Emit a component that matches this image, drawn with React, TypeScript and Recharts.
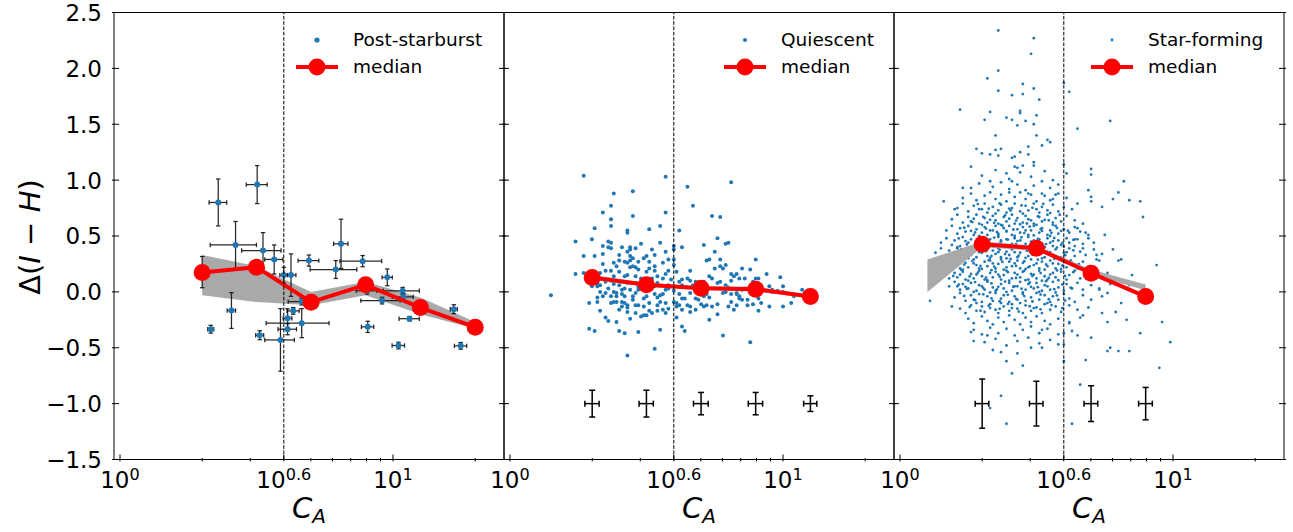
import React from 'react';
import {
  ComposedChart,
  Scatter,
  Line,
  Area,
  XAxis,
  YAxis,
  ErrorBar,
  ReferenceLine,
  Legend,
} from 'recharts';

/* -------------------------------------------------------------------------- */
/*  Data                                                                      */
/* -------------------------------------------------------------------------- */

// bin centres of the running medians (C_A)
const binCA = [2.0, 3.16, 5.01, 7.94, 12.6, 20.0];

// post-starburst galaxies (with individual errors)
const psCA = [2.29, 3.18, 2.65, 3.34, 3.67, 3.98, 4.23, 4.92, 6.45, 6.17, 7.74, 9.53, 10.85, 10.9, 9.12, 8.03, 11.5, 10.47, 8.08, 16.7, 17.7, 2.15, 2.56, 3.25, 3.87, 4.11, 4.11, 4.63, 4.31, 4.63, 2.0];
const psDelta = [0.8, 0.96, 0.42, 0.37, 0.29, 0.15, 0.15, 0.28, 0.43, 0.2, 0.275, 0.13, 0.01, -0.045, -0.078, 0.01, -0.24, -0.48, -0.313, -0.155, -0.483, -0.334, -0.167, -0.388, -0.43, -0.334, -0.236, -0.28, -0.17, -0.087, 0.177];
const psErrCA = [0.17, 0.28, 0.51, 0.55, 0.28, 0.13, 0.18, 0.43, 0.39, 1.2, 1.35, 0.41, 1.64, 0.96, 1.5, 0.7, 0.98, 0.55, 0.42, 0.5, 0.92, 0.055, 0.09, 0.11, 0.48, 0.32, 0.15, 1.2, 0.22, 0.5, 0.05];
const psErrDelta = [0.21, 0.17, 0.21, 0.16, 0.13, 0.07, 0.19, 0.05, 0.22, 0.08, 0.05, 0.075, 0.03, 0.03, 0.03, 0.03, 0.02, 0.03, 0.05, 0.04, 0.03, 0.035, 0.16, 0.04, 0.28, 0.05, 0.085, 0.13, 0.03, 0.03, 0.14];

const psMedian = [0.173, 0.221, -0.092, 0.063, -0.14, -0.316];
const psBandLow = [-0.03, -0.09, -0.12, -0.03, -0.2, -0.33];
const psBandHigh = [0.33, 0.23, 0.0, 0.09, -0.05, -0.27];

// quiescent galaxies: [log10 C_A, delta]
const qCloud = [
  [0.27, 1.04], [0.57, 1.03], [0.65, 0.94], [0.81, 0.98], [0.38, 0.88], [0.45, 0.9], [0.37, 0.77], [0.67, 0.77], [0.34, 0.71], [0.57, 0.71],
  [0.45, 0.68], [0.37, 0.65], [0.74, 0.68], [0.77, 0.67], [0.31, 0.57], [0.37, 0.59], [0.55, 0.59], [0.51, 0.56], [0.62, 0.55], [0.43, 0.55],
  [0.43, 0.53], [0.24, 0.45], [0.3, 0.47], [0.76, 0.48], [0.8, 0.44], [0.79, 0.43], [0.36, 0.45], [0.37, 0.44], [0.34, 0.41], [0.36, 0.4],
  [0.37, 0.39], [0.41, 0.4], [0.44, 0.4], [0.44, 0.38], [0.46, 0.39], [0.48, 0.43], [0.52, 0.38], [0.55, 0.44], [0.6, 0.41], [0.63, 0.4],
  [0.71, 0.42], [0.27, 0.32], [0.31, 0.32], [0.4, 0.33], [0.44, 0.32], [0.43, 0.36], [0.5, 0.32], [0.53, 0.33], [0.57, 0.36], [0.6, 0.38],
  [0.6, 0.29], [0.75, 0.36], [0.77, 0.29], [0.72, 0.28], [0.73, 0.29], [0.9, 0.29], [0.85, 0.21], [0.88, 0.2], [0.94, 0.16], [0.99, 0.13],
  [1.0, 0.05], [1.07, 0.02], [1.03, -0.1], [1.0, -0.13], [0.95, -0.13], [0.91, -0.17], [0.87, -0.12], [0.88, -0.45], [0.78, -0.39], [0.73, -0.25],
  [0.76, -0.2], [0.7, -0.11], [0.71, -0.13], [0.66, -0.13], [0.66, -0.18], [0.63, -0.31], [0.64, -0.35], [0.61, -0.23], [0.58, -0.15], [0.53, -0.51],
  [0.55, -0.34], [0.47, -0.36], [0.43, -0.57], [0.42, -0.37], [0.4, -0.35], [0.31, -0.35], [0.29, -0.33], [0.29, -0.1], [0.24, 0.16], [0.15, -0.03],
  [0.27, 0.17], [0.33, -0.17], [0.35, -0.23], [0.36, -0.26], [0.39, -0.27], [0.44, -0.24], [0.46, -0.19], [0.48, -0.22], [0.5, -0.21], [0.52, -0.19],
  [0.54, -0.12], [0.51, -0.1], [0.49, -0.13], [0.47, -0.12], [0.45, -0.07], [0.43, -0.12], [0.43, -0.14], [0.4, -0.16], [0.41, -0.09], [0.38, -0.09],
  [0.37, -0.1], [0.34, -0.04], [0.32, -0.05], [0.32, 0.05], [0.33, 0.0], [0.32, -0.09], [0.35, -0.01], [0.39, -0.01], [0.41, -0.02], [0.42, -0.04],
  [0.42, 0.03], [0.45, -0.04], [0.46, -0.01], [0.47, 0.02], [0.5, -0.04], [0.53, -0.02], [0.54, -0.05], [0.56, -0.02], [0.57, 0.02], [0.58, 0.03],
  [0.6, 0.01], [0.62, -0.02], [0.63, -0.06], [0.61, -0.1], [0.61, -0.13], [0.62, -0.12], [0.64, -0.06], [0.63, 0.11], [0.65, 0.12], [0.66, 0.19],
  [0.66, 0.1], [0.67, 0.06], [0.68, 0.09], [0.69, 0.04], [0.71, -0.04], [0.72, -0.02], [0.73, -0.05], [0.74, 0.12], [0.76, 0.08], [0.77, 0.09],
  [0.79, 0.06], [0.79, 0.0], [0.8, 0.04], [0.81, -0.02], [0.83, -0.02], [0.83, -0.01], [0.84, -0.04], [0.85, 0.02], [0.86, 0.03], [0.88, 0.0],
  [0.89, 0.02], [0.91, -0.06], [0.93, 0.02], [0.95, 0.05], [0.96, 0.02], [1.0, 0.0], [1.03, -0.02], [1.06, -0.03], [0.81, 0.1], [0.82, 0.14],
  [0.77, 0.23], [0.78, 0.21], [0.79, 0.24], [0.81, 0.16], [0.83, 0.16], [0.84, 0.12], [0.86, 0.12], [0.89, 0.09], [0.9, 0.12], [0.91, 0.12],
  [0.8, -0.13], [0.82, -0.16], [0.83, -0.12], [0.72, -0.12], [0.74, -0.13], [0.76, -0.11], [0.68, -0.16], [0.68, -0.06], [0.69, -0.07], [0.65, -0.12],
  [0.63, -0.16], [0.6, -0.09], [0.57, -0.1], [0.55, -0.03], [0.54, 0.08], [0.53, 0.19], [0.51, 0.21], [0.5, 0.18], [0.5, 0.11], [0.47, 0.2],
  [0.46, 0.14], [0.46, 0.22], [0.44, 0.22], [0.43, 0.15], [0.42, 0.14], [0.4, 0.18], [0.38, 0.14], [0.37, 0.19], [0.35, 0.19], [0.34, 0.25],
  [0.33, 0.17], [0.31, 0.18], [0.32, 0.08], [0.35, 0.09], [0.37, 0.1], [0.38, 0.07], [0.4, 0.06], [0.41, 0.09], [0.43, 0.08], [0.44, 0.02],
  [0.48, 0.06], [0.52, 0.12], [0.54, 0.14], [0.56, 0.12], [0.57, 0.16], [0.58, 0.19], [0.6, 0.24], [0.61, 0.18], [0.59, 0.11], [0.6, 0.05],
  [0.51, 0.05], [0.5, 0.02], [0.39, -0.04], [0.39, -0.09], [0.37, -0.04], [0.43, -0.18], [0.49, -0.21], [0.51, -0.17], [0.46, -0.12], [0.54, -0.17],
  [0.56, -0.16], [0.57, -0.19], [0.42, -0.1], [0.41, -0.13], [0.49, -0.06], [0.55, -0.09], [0.66, -0.01], [0.68, 0.04], [0.71, 0.09], [0.73, 0.14],
  [0.75, 0.21], [0.78, -0.01], [0.81, -0.09], [0.85, -0.07], [0.89, -0.11], [0.87, -0.07], [0.84, -0.06], [0.92, -0.1], [0.96, 0.0], [0.98, 0.01],
  [1.01, -0.01], [1.04, -0.04], [1.1, -0.04], [1.08, -0.01], [0.63, 0.06], [0.65, 0.04], [0.62, 0.09], [0.58, 0.06], [0.53, 0.05], [0.47, 0.05],
  [0.48, 0.12], [0.46, 0.08], [0.41, 0.02], [0.38, 0.0], [0.36, 0.03], [0.33, 0.06], [0.31, 0.11], [0.29, 0.09], [0.3, 0.05], [0.32, 0.15],
  [0.34, 0.34], [0.38, 0.26], [0.39, 0.23], [0.4, 0.28], [0.42, 0.27], [0.45, 0.3], [0.47, 0.27], [0.49, 0.3], [0.51, 0.27], [0.56, 0.26],
  [0.58, 0.29], [0.53, 0.23], [0.43, 0.26], [0.44, 0.28], [0.45, 0.23],
];
const qMedian = [0.128, 0.063, 0.033, 0.024, -0.042];
const qBandLow = [0.11, 0.045, 0.02, 0.005, -0.06];
const qBandHigh = [0.15, 0.08, 0.05, 0.045, -0.025];
const qTypErrCA = [0.12, 0.19, 0.31, 0.48, 0.7];
const qTypErrDelta = [0.12, 0.12, 0.1, 0.1, 0.07];

// star-forming galaxies: [log10 C_A, delta]
const sfOutliers = [
  [0.36, 2.34], [0.49, 2.27], [0.48, 2.13], [0.36, 1.98], [0.32, 1.91], [0.45, 1.86], [0.6, 1.87], [0.49, 1.82], [0.36, 1.8], [0.45, 1.77],
  [0.41, 1.76], [0.62, 1.79], [0.51, 1.72], [0.22, 1.63], [0.44, 1.62], [0.44, 1.6], [0.33, 1.61], [0.39, 1.56], [0.5, 1.58], [0.46, 1.53],
  [0.41, 1.54], [0.43, 1.49], [0.49, 1.5], [0.31, 1.54], [0.77, 1.53], [0.65, 1.46], [0.35, 1.4], [0.5, 1.4], [0.54, 1.36], [0.55, 1.34],
  [0.52, 1.31], [0.47, 1.3], [0.28, 1.28], [0.3, 1.24], [0.33, 1.23], [0.35, 1.27], [0.37, 1.28], [0.36, 1.22], [0.41, 1.2], [0.42, 1.21],
  [0.44, 1.25], [0.47, 1.23], [0.49, 1.16], [0.49, 1.13], [0.26, 1.12], [0.42, 1.12], [0.39, 1.06], [0.43, 1.11], [0.45, 1.13], [0.6, 1.14],
  [0.61, 1.06], [0.7, 1.1], [0.7, 1.05], [0.82, 0.99], [0.8, 0.89], [0.69, 0.91], [0.7, 0.85], [0.7, 0.81], [0.78, 0.83], [0.84, 0.82],
  [0.88, 0.81], [0.89, 0.67], [0.74, 0.76], [0.75, 0.51], [0.78, 0.38], [0.8, 0.28], [0.85, 0.15], [0.94, 0.24], [0.84, 0.06], [0.89, 0.05],
  [0.96, -0.27], [0.99, -0.45], [0.95, -0.68], [0.88, -0.37], [0.84, -0.53], [0.8, -0.53], [0.76, -0.53], [0.77, -0.5], [0.7, -0.41], [0.68, -0.61],
  [0.66, -0.83], [0.63, -1.18], [0.6, -0.62], [0.39, -1.18], [0.37, -0.93], [0.41, -0.73], [0.33, -1.04], [0.39, -0.62], [0.45, -0.66], [0.27, -0.44],
  [0.26, -0.36], [0.11, -0.08], [0.19, -0.13], [0.21, 0.05], [0.16, 0.14], [0.2, 0.25], [0.16, 0.81], [0.2, 0.74], [0.23, 0.93], [0.21, 0.4],
  [0.32, -0.39], [0.34, -0.52], [0.37, -0.54], [0.43, -0.55], [0.48, -0.5], [0.52, -0.5], [0.52, -0.34], [0.58, -0.47], [0.6, -0.37], [0.62, -0.27],
  [0.65, -0.39], [0.67, -0.21], [0.74, -0.19], [0.76, -0.27], [0.79, -0.18], [0.83, -0.25], [0.81, -0.1], [0.76, -0.01], [0.73, 0.02], [0.81, 0.29],
  [0.72, 0.29], [0.72, 0.33], [0.67, 0.39], [0.68, 0.53], [0.65, 0.57], [0.64, 0.47], [0.57, 0.87], [0.56, 0.83], [0.52, 0.88], [0.47, 0.88],
];
const sfCore = [
  [0.3, 1.04], [0.35, 1.09], [0.4, 1.01], [0.44, 1.07], [0.48, 1.03], [0.53, 1.08], [0.33, 0.99], [0.56, 1.0],
  [0.26, 0.93], [0.29, 0.97], [0.34, 0.94], [0.37, 0.98], [0.4, 0.92], [0.43, 0.96], [0.46, 0.91], [0.49, 0.95], [0.52, 0.99], [0.55, 0.93], [0.58, 0.96], [0.41, 0.99],
  [0.23, 0.84], [0.26, 0.88], [0.28, 0.82], [0.31, 0.86], [0.33, 0.89], [0.35, 0.83], [0.37, 0.87], [0.39, 0.81], [0.42, 0.85], [0.44, 0.89], [0.46, 0.83], [0.48, 0.87], [0.5, 0.81], [0.53, 0.86], [0.55, 0.82], [0.58, 0.88], [0.61, 0.84], [0.4, 0.89],
  [0.21, 0.75], [0.23, 0.79], [0.25, 0.72], [0.27, 0.77], [0.29, 0.74], [0.31, 0.79], [0.32, 0.71], [0.34, 0.76], [0.36, 0.73], [0.37, 0.78], [0.39, 0.71], [0.41, 0.75], [0.42, 0.79],
  [0.44, 0.72], [0.46, 0.77], [0.47, 0.73], [0.49, 0.79], [0.51, 0.71], [0.52, 0.76], [0.54, 0.73], [0.56, 0.78], [0.58, 0.72], [0.6, 0.76], [0.63, 0.74], [0.65, 0.79],
  [0.19, 0.65], [0.21, 0.69], [0.23, 0.62], [0.25, 0.67], [0.26, 0.63], [0.28, 0.69], [0.29, 0.61], [0.31, 0.66], [0.32, 0.62], [0.34, 0.68], [0.35, 0.64], [0.36, 0.61], [0.38, 0.67], [0.39, 0.63], [0.41, 0.69],
  [0.42, 0.61], [0.43, 0.66], [0.45, 0.62], [0.46, 0.68], [0.48, 0.64], [0.49, 0.61], [0.51, 0.67], [0.52, 0.63], [0.54, 0.69], [0.56, 0.62], [0.57, 0.66], [0.59, 0.63], [0.61, 0.68], [0.64, 0.64], [0.67, 0.61],
  [0.17, 0.55], [0.19, 0.59], [0.21, 0.52], [0.22, 0.57], [0.24, 0.54], [0.25, 0.59], [0.27, 0.51], [0.28, 0.56], [0.3, 0.53], [0.31, 0.58], [0.32, 0.51], [0.34, 0.55], [0.35, 0.59], [0.36, 0.52], [0.38, 0.57], [0.39, 0.54], [0.4, 0.59], [0.41, 0.51],
  [0.43, 0.56], [0.44, 0.53], [0.45, 0.58], [0.47, 0.51], [0.48, 0.55], [0.49, 0.59], [0.51, 0.53], [0.52, 0.57], [0.54, 0.51], [0.55, 0.55], [0.57, 0.59], [0.58, 0.52], [0.6, 0.56], [0.62, 0.53], [0.64, 0.58], [0.66, 0.54], [0.69, 0.51],
  [0.15, 0.44], [0.17, 0.48], [0.19, 0.42], [0.2, 0.46], [0.22, 0.41], [0.23, 0.49], [0.25, 0.44], [0.26, 0.47], [0.28, 0.42], [0.29, 0.48], [0.3, 0.45], [0.32, 0.41], [0.33, 0.47], [0.34, 0.43], [0.36, 0.49], [0.37, 0.45], [0.38, 0.41], [0.39, 0.47], [0.41, 0.43], [0.42, 0.48],
  [0.43, 0.41], [0.44, 0.46], [0.46, 0.43], [0.47, 0.49], [0.48, 0.45], [0.5, 0.41], [0.51, 0.47], [0.52, 0.43], [0.54, 0.48], [0.55, 0.44], [0.56, 0.41], [0.58, 0.46], [0.59, 0.42], [0.61, 0.48], [0.62, 0.44], [0.64, 0.41], [0.65, 0.47], [0.67, 0.43], [0.69, 0.48], [0.71, 0.44],
  [0.13, 0.35], [0.15, 0.39], [0.17, 0.32], [0.18, 0.37], [0.2, 0.34], [0.21, 0.39], [0.23, 0.31], [0.24, 0.36], [0.26, 0.33], [0.27, 0.38], [0.28, 0.31], [0.3, 0.35], [0.31, 0.39], [0.32, 0.32], [0.34, 0.37], [0.35, 0.34], [0.36, 0.39], [0.37, 0.31], [0.39, 0.36], [0.4, 0.33],
  [0.41, 0.38], [0.43, 0.31], [0.44, 0.35], [0.45, 0.39], [0.47, 0.32], [0.48, 0.37], [0.5, 0.34], [0.51, 0.39], [0.53, 0.31], [0.54, 0.36], [0.56, 0.33], [0.57, 0.38], [0.59, 0.31], [0.6, 0.35], [0.62, 0.39], [0.64, 0.32], [0.66, 0.36], [0.68, 0.33], [0.71, 0.38], [0.74, 0.34],
  [0.13, 0.25], [0.15, 0.29], [0.16, 0.22], [0.18, 0.27], [0.19, 0.23], [0.21, 0.28], [0.22, 0.21], [0.24, 0.26], [0.25, 0.22], [0.27, 0.29], [0.28, 0.24], [0.29, 0.21], [0.31, 0.27], [0.32, 0.23], [0.33, 0.28], [0.35, 0.21], [0.36, 0.25], [0.37, 0.29], [0.39, 0.22], [0.4, 0.27],
  [0.41, 0.23], [0.43, 0.28], [0.44, 0.21], [0.45, 0.26], [0.47, 0.22], [0.48, 0.29], [0.49, 0.24], [0.51, 0.21], [0.52, 0.27], [0.54, 0.23], [0.55, 0.28], [0.57, 0.21], [0.58, 0.25], [0.6, 0.29], [0.61, 0.22], [0.63, 0.26], [0.65, 0.21], [0.67, 0.27], [0.7, 0.23], [0.73, 0.28],
  [0.15, 0.15], [0.17, 0.19], [0.18, 0.12], [0.2, 0.17], [0.21, 0.13], [0.23, 0.18], [0.24, 0.11], [0.26, 0.16], [0.27, 0.12], [0.29, 0.19], [0.3, 0.14], [0.31, 0.11], [0.33, 0.17], [0.34, 0.13], [0.35, 0.18], [0.37, 0.11], [0.38, 0.15], [0.39, 0.19], [0.41, 0.12],
  [0.42, 0.17], [0.44, 0.13], [0.45, 0.18], [0.47, 0.11], [0.48, 0.16], [0.5, 0.12], [0.51, 0.19], [0.53, 0.14], [0.54, 0.11], [0.56, 0.17], [0.57, 0.13], [0.59, 0.18], [0.61, 0.11], [0.62, 0.15], [0.64, 0.19], [0.66, 0.12], [0.69, 0.16], [0.72, 0.13], [0.76, 0.17],
  [0.18, 0.05], [0.2, 0.09], [0.22, 0.02], [0.23, 0.07], [0.25, 0.03], [0.26, 0.08], [0.28, 0.01], [0.29, 0.06], [0.31, 0.02], [0.32, 0.09], [0.34, 0.04], [0.35, 0.01], [0.37, 0.07], [0.38, 0.03], [0.4, 0.08], [0.41, 0.01], [0.43, 0.05], [0.44, 0.09],
  [0.46, 0.02], [0.47, 0.07], [0.49, 0.03], [0.5, 0.08], [0.52, 0.01], [0.53, 0.06], [0.55, 0.02], [0.56, 0.09], [0.58, 0.04], [0.6, 0.01], [0.61, 0.07], [0.63, 0.03], [0.65, 0.08], [0.67, 0.02], [0.7, 0.06], [0.73, 0.03], [0.77, 0.07],
  [0.2, -0.05], [0.22, -0.01], [0.24, -0.08], [0.26, -0.03], [0.27, -0.07], [0.29, -0.02], [0.3, -0.09], [0.32, -0.04], [0.34, -0.08], [0.35, -0.01], [0.37, -0.06], [0.38, -0.03], [0.4, -0.09], [0.42, -0.04], [0.43, -0.07],
  [0.45, -0.02], [0.46, -0.08], [0.48, -0.05], [0.5, -0.01], [0.51, -0.07], [0.53, -0.03], [0.55, -0.09], [0.56, -0.04], [0.58, -0.07], [0.6, -0.02], [0.62, -0.06], [0.64, -0.09], [0.67, -0.03], [0.7, -0.07], [0.74, -0.04],
  [0.22, -0.15], [0.24, -0.19], [0.26, -0.12], [0.28, -0.17], [0.3, -0.13], [0.31, -0.18], [0.33, -0.11], [0.35, -0.16], [0.36, -0.19], [0.38, -0.13], [0.4, -0.17], [0.41, -0.11], [0.43, -0.15],
  [0.45, -0.19], [0.46, -0.12], [0.48, -0.17], [0.5, -0.14], [0.52, -0.19], [0.53, -0.11], [0.55, -0.16], [0.57, -0.13], [0.59, -0.18], [0.62, -0.12], [0.65, -0.16], [0.69, -0.14],
  [0.25, -0.24], [0.27, -0.28], [0.3, -0.22], [0.32, -0.26], [0.34, -0.29], [0.36, -0.23], [0.38, -0.27], [0.4, -0.21], [0.42, -0.25], [0.44, -0.29], [0.46, -0.23], [0.48, -0.27], [0.5, -0.22], [0.53, -0.26], [0.55, -0.29], [0.58, -0.24], [0.62, -0.28], [0.66, -0.23],
  [0.27, -0.34], [0.3, -0.38], [0.33, -0.32], [0.36, -0.37], [0.39, -0.33], [0.42, -0.39], [0.45, -0.34], [0.48, -0.31], [0.51, -0.37], [0.54, -0.33], [0.58, -0.38], [0.63, -0.35],
  [0.31, -0.45], [0.35, -0.42], [0.39, -0.48], [0.43, -0.44], [0.47, -0.41], [0.51, -0.46], [0.55, -0.43], [0.6, -0.47],
  [0.3, 0.74], [0.35, 0.7], [0.4, 0.745], [0.45, 0.7], [0.5, 0.74], [0.55, 0.705],
  [0.27, 0.655], [0.3, 0.6], [0.33, 0.645], [0.37, 0.6], [0.4, 0.655], [0.44, 0.605], [0.47, 0.65], [0.5, 0.6], [0.53, 0.645], [0.56, 0.6],
  [0.26, 0.545], [0.29, 0.5], [0.33, 0.55], [0.36, 0.505], [0.39, 0.545], [0.42, 0.5], [0.46, 0.55], [0.49, 0.505], [0.52, 0.545], [0.55, 0.5], [0.59, 0.545],
  [0.24, 0.455], [0.27, 0.4], [0.31, 0.455], [0.34, 0.405], [0.37, 0.46], [0.4, 0.4], [0.43, 0.455], [0.46, 0.405], [0.49, 0.46], [0.53, 0.4], [0.56, 0.455], [0.6, 0.405],
  [0.22, 0.355], [0.25, 0.3], [0.29, 0.355], [0.33, 0.305], [0.36, 0.355], [0.39, 0.3], [0.42, 0.355], [0.46, 0.305], [0.49, 0.355], [0.52, 0.3], [0.55, 0.355], [0.58, 0.305], [0.61, 0.355],
  [0.2, 0.255], [0.23, 0.2], [0.27, 0.255], [0.3, 0.205], [0.34, 0.255], [0.38, 0.2], [0.42, 0.255], [0.46, 0.205], [0.5, 0.255], [0.53, 0.2], [0.56, 0.255], [0.59, 0.205], [0.62, 0.255],
  [0.22, 0.155], [0.25, 0.1], [0.28, 0.155], [0.32, 0.105], [0.36, 0.155], [0.4, 0.1], [0.43, 0.155], [0.46, 0.105], [0.49, 0.155], [0.52, 0.1], [0.55, 0.155], [0.58, 0.105],
  [0.24, 0.045], [0.27, 0.0], [0.3, 0.05], [0.33, -0.005], [0.36, 0.045], [0.39, 0.0], [0.42, 0.05], [0.45, -0.005], [0.48, 0.045], [0.51, 0.0], [0.54, 0.05], [0.57, -0.005],
  [0.28, -0.1], [0.33, -0.145], [0.37, -0.1], [0.41, -0.145], [0.44, -0.1], [0.49, -0.145], [0.54, -0.1],
];
const sfDense = [
  [0.265, 0.625], [0.305, 0.672], [0.345, 0.618], [0.385, 0.684], [0.425, 0.638], [0.465, 0.612], [0.505, 0.676], [0.545, 0.641], [0.585, 0.69],
  [0.235, 0.574], [0.275, 0.532], [0.315, 0.566], [0.355, 0.536], [0.375, 0.592], [0.415, 0.558], [0.455, 0.526], [0.475, 0.584], [0.515, 0.562], [0.555, 0.528], [0.575, 0.572], [0.615, 0.548],
  [0.215, 0.478], [0.245, 0.424], [0.285, 0.462], [0.305, 0.428], [0.345, 0.486], [0.365, 0.432], [0.395, 0.468], [0.425, 0.426], [0.445, 0.488], [0.485, 0.436], [0.505, 0.474], [0.535, 0.428], [0.565, 0.482], [0.595, 0.438], [0.635, 0.466],
  [0.195, 0.326], [0.225, 0.382], [0.255, 0.344], [0.275, 0.398], [0.315, 0.364], [0.335, 0.322], [0.365, 0.376], [0.385, 0.338], [0.415, 0.392], [0.435, 0.324], [0.465, 0.368], [0.485, 0.332], [0.515, 0.384], [0.545, 0.342], [0.575, 0.396], [0.605, 0.328], [0.635, 0.372],
  [0.175, 0.238], [0.205, 0.292], [0.235, 0.244], [0.265, 0.276], [0.295, 0.232], [0.325, 0.284], [0.345, 0.226], [0.375, 0.268], [0.405, 0.294], [0.425, 0.232], [0.455, 0.274], [0.475, 0.228], [0.505, 0.288], [0.535, 0.246], [0.565, 0.296], [0.595, 0.236], [0.625, 0.282], [0.655, 0.248],
  [0.195, 0.142], [0.225, 0.196], [0.255, 0.138], [0.285, 0.172], [0.315, 0.128], [0.335, 0.194], [0.365, 0.136], [0.395, 0.176], [0.425, 0.124], [0.455, 0.188], [0.485, 0.142], [0.515, 0.168], [0.545, 0.126], [0.575, 0.192], [0.605, 0.144], [0.635, 0.176],
  [0.215, 0.064], [0.245, 0.026], [0.275, 0.088], [0.305, 0.034], [0.335, 0.076], [0.355, 0.022], [0.385, 0.092], [0.415, 0.046], [0.445, 0.028], [0.475, 0.084], [0.505, 0.042], [0.535, 0.096], [0.565, 0.024], [0.595, 0.066], [0.625, 0.038],
  [0.235, -0.036], [0.275, -0.074], [0.305, -0.022], [0.335, -0.058], [0.365, -0.084], [0.395, -0.026], [0.425, -0.062], [0.455, -0.038], [0.485, -0.086], [0.515, -0.024], [0.545, -0.066], [0.575, -0.032], [0.605, -0.078],
  [0.255, -0.136], [0.295, -0.168], [0.325, -0.124], [0.365, -0.152], [0.395, -0.108], [0.435, -0.176], [0.475, -0.128], [0.515, -0.156], [0.555, -0.118], [0.595, -0.146],
  [0.285, 0.786], [0.325, 0.744], [0.365, 0.792], [0.405, 0.728], [0.445, 0.774], [0.485, 0.752], [0.525, 0.788],
];
const sfMedian = [0.427, 0.391, 0.167, -0.042];
const sfBandCA = [1.26, 2.0, 3.16, 5.01, 7.94];
const sfBandLow = [0.0, 0.4, 0.37, 0.15, 0.015];
const sfBandHigh = [0.29, 0.45, 0.41, 0.2, 0.065];
const sfTypErrCA = [0.115, 0.18, 0.29, 0.46];
const sfTypErrDelta = [0.22, 0.2, 0.16, 0.145];

// axes
const xMajor = [1, 10 ** 0.6, 10];
const xMajorExp = ['0', '0.6', '1'];
const xMinor = [2, 3, 5, 6, 7, 8, 9, 20];
const xTicks = [...xMajor, ...xMinor].sort((a, b) => a - b);
const yTicks = [-1.5, -1, -0.5, 0, 0.5, 1, 1.5, 2, 2.5];
const X_DOMAIN = [0.9506, 25.5];
const Y_DOMAIN = [-1.5, 2.5];
const CA_CUT = 10 ** 0.6;

/* -------------------------------------------------------------------------- */
/*  Styling helpers                                                           */
/* -------------------------------------------------------------------------- */

const FONT = '"DejaVu Sans", sans-serif';
const BLUE = '#1f77b4';
const RED = '#ff0000';
const BAND = '#a9a9a9';
const TICK_FS = 23;

const isMajor = (v: number) => xMajor.findIndex((m) => Math.abs(m - v) < 1e-6);
const fmtY = (v: number) => (v < 0 ? '\u2212' : '') + Math.abs(v).toFixed(1);

function BottomTick({ x, y, payload }: any) {
  const i = isMajor(payload.value);
  return (
    <g>
      <line x1={x} x2={x} y1={y} y2={y - (i >= 0 ? 7 : 3.5)} stroke="#000" strokeWidth={1} />
      {i >= 0 && (
        <text x={x} y={y + 26.3} textAnchor="middle" fontFamily={FONT} fontSize={TICK_FS} fill="#000">
          10
          <tspan dy={-7.8} fontSize={TICK_FS * 0.7}>{xMajorExp[i]}</tspan>
        </text>
      )}
    </g>
  );
}

function TopTick({ x, y, payload }: any) {
  const i = isMajor(payload.value);
  return <line x1={x} x2={x} y1={y} y2={y + (i >= 0 ? 7 : 3.5)} stroke="#000" strokeWidth={1} />;
}

function LeftTick({ x, y, payload, labels }: any) {
  return (
    <g>
      <line x1={x} x2={x + 7} y1={y} y2={y} stroke="#000" strokeWidth={1} />
      {labels && (
        <text x={x - 10} y={y + 8.4} textAnchor="end" fontFamily={FONT} fontSize={TICK_FS} fill="#000">
          {fmtY(payload.value)}
        </text>
      )}
    </g>
  );
}

function RightTick({ x, y }: any) {
  return <line x1={x} x2={x - 7} y1={y} y2={y} stroke="#000" strokeWidth={1} />;
}

function XTitle({ viewBox }: any) {
  const { x, y, width } = viewBox;
  return (
    <text x={x + width / 2} y={y + 58.8} textAnchor="middle" fontFamily={FONT} fontSize={29} fontStyle="italic" fill="#000">
      C<tspan dy={5} fontSize={20}>A</tspan>
    </text>
  );
}

function YTitle() {
  return (
    <text x={40} y={237} transform="rotate(-90, 40, 237)" textAnchor="middle" fontFamily={FONT} fontSize={29} fill="#000">
      Δ(<tspan fontStyle="italic">I</tspan> − <tspan fontStyle="italic">H</tspan>)
    </text>
  );
}

function LegendBox({ name, dotR }: { name: string; dotR: number }) {
  return (
    <svg width={200} height={60} style={{ display: 'block', overflow: 'visible' }}>
      <circle cx={22} cy={13} r={dotR} fill={BLUE} />
      <text x={58} y={18.6} fontFamily={FONT} fontSize={18.5} fill="#000">{name}</text>
      <line x1={1} x2={43} y1={40} y2={40} stroke={RED} strokeWidth={4} />
      <circle cx={22} cy={40} r={8.5} fill={RED} />
      <text x={58} y={45.8} fontFamily={FONT} fontSize={18.5} fill="#000">median</text>
    </svg>
  );
}

const dot = (r: number) => (p: any) => <circle cx={p.cx} cy={p.cy} r={r} fill={BLUE} />;
const medianDot = (p: any) => <circle key={`m${p.index}`} cx={p.cx} cy={p.cy} r={8.5} fill={RED} />;
const noShape = () => <g />;

/* -------------------------------------------------------------------------- */
/*  Panel                                                                     */
/* -------------------------------------------------------------------------- */

interface PanelProps {
  left: number;
  yWidth: number;
  labels: boolean;
  legendName: string;
  legendLeft: number;
  legendDotR: number;
  children: React.ReactNode;
}

function Panel({ left, yWidth, labels, legendName, legendLeft, legendDotR, children }: PanelProps) {
  const width = yWidth + 390 + 9;
  return (
    <div style={{ position: 'absolute', left, top: 0 }}>
      <ComposedChart width={width} height={532} margin={{ top: 0, right: 0, bottom: 0, left: 0 }}>
        <XAxis
          dataKey="x"
          type="number"
          scale="log"
          domain={X_DOMAIN}
          ticks={xTicks}
          interval={0}
          tickSize={0}
          tick={(p: any) => <BottomTick {...p} />}
          axisLine={{ stroke: '#000', strokeWidth: 1 }}
          height={72.5}
          allowDataOverflow
          label={<XTitle />}
        />
        <XAxis
          xAxisId="top"
          orientation="top"
          type="number"
          scale="log"
          domain={X_DOMAIN}
          ticks={xTicks}
          interval={0}
          tickSize={0}
          tick={(p: any) => <TopTick {...p} />}
          axisLine={{ stroke: '#000', strokeWidth: 1 }}
          height={12.5}
          allowDataOverflow
        />
        <YAxis
          dataKey="y"
          type="number"
          domain={Y_DOMAIN}
          ticks={yTicks}
          interval={0}
          tickSize={0}
          tick={(p: any) => <LeftTick {...p} labels={labels} />}
          axisLine={{ stroke: '#000', strokeWidth: 1 }}
          width={yWidth}
          allowDataOverflow
          label={labels ? <YTitle /> : undefined}
        />
        <YAxis
          yAxisId="right"
          orientation="right"
          type="number"
          domain={Y_DOMAIN}
          ticks={yTicks}
          interval={0}
          tickSize={0}
          tick={(p: any) => <RightTick {...p} />}
          axisLine={{ stroke: '#000', strokeWidth: 1 }}
          width={9}
          allowDataOverflow
        />
        <ReferenceLine x={CA_CUT} stroke="#000" strokeWidth={1} strokeDasharray="3.7 1.6" />
        {children}
        <Legend
          layout="vertical"
          align="center"
          verticalAlign="middle"
          wrapperStyle={{ left: legendLeft, top: 27, width: 200, height: 60 }}
          content={() => <LegendBox name={legendName} dotR={legendDotR} />}
        />
      </ComposedChart>
    </div>
  );
}

/* -------------------------------------------------------------------------- */
/*  Component                                                                 */
/* -------------------------------------------------------------------------- */

export default function App() {
  const psPoints = psCA.map((x, i) => ({ x, y: psDelta[i], ex: psErrCA[i], ey: psErrDelta[i] }));
  const psMed = psMedian.map((y, i) => ({ x: binCA[i], y }));
  const psBand = psBandLow.map((lo, i) => ({ x: binCA[i], band: [lo, psBandHigh[i]] }));

  const qPoints = qCloud.map(([lx, y]) => ({ x: 10 ** lx, y }));
  const qMed = qMedian.map((y, i) => ({ x: binCA[i], y }));
  const qBand = qBandLow.map((lo, i) => ({ x: binCA[i], band: [lo, qBandHigh[i]] }));
  const qTyp = qTypErrCA.map((ex, i) => ({ x: binCA[i], y: -1, ex, ey: qTypErrDelta[i] }));

  const sfPoints = [...sfOutliers, ...sfCore, ...sfDense].map(([lx, y]) => ({ x: 10 ** lx, y }));
  const sfMed = sfMedian.map((y, i) => ({ x: binCA[i], y }));
  const sfBand = sfBandLow.map((lo, i) => ({ x: sfBandCA[i], band: [lo, sfBandHigh[i]] }));
  const sfTyp = sfTypErrCA.map((ex, i) => ({ x: binCA[i], y: -1, ex, ey: sfTypErrDelta[i] }));

  return (
    <div style={{ position: 'absolute', left: 0, top: 0, width: 1293, height: 532, overflow: 'hidden', background: '#fff' }}>
      <Panel left={0} yWidth={114} labels legendName="Post-starburst" legendLeft={294.7} legendDotR={2.6}>
        <Area data={psBand} dataKey="band" type="linear" stroke="none" fill={BAND} fillOpacity={1} isAnimationActive={false} zIndex={100} />
        <Scatter data={psPoints} shape={noShape} isAnimationActive={false} zIndex={200}>
          <ErrorBar dataKey="ey" direction="y" width={2.2} stroke="#111" strokeOpacity={0.9} strokeWidth={1.25} zIndex={150} />
          <ErrorBar dataKey="ex" direction="x" width={2.2} stroke="#111" strokeOpacity={0.9} strokeWidth={1.25} zIndex={150} />
        </Scatter>
        <Scatter data={psPoints} shape={dot(3)} isAnimationActive={false} zIndex={260} />
        <Line data={psMed} dataKey="y" type="linear" stroke={RED} strokeWidth={4} dot={medianDot} activeDot={false} isAnimationActive={false} zIndex={300} />
      </Panel>

      <Panel left={474} yWidth={30} labels={false} legendName="Quiescent" legendLeft={249} legendDotR={2}>
        <Scatter data={qPoints} shape={dot(2)} isAnimationActive={false} zIndex={100} />
        <Area data={qBand} dataKey="band" type="linear" stroke="none" fill={BAND} fillOpacity={1} isAnimationActive={false} zIndex={200} />
        <Line data={qMed} dataKey="y" type="linear" stroke={RED} strokeWidth={4} dot={medianDot} activeDot={false} isAnimationActive={false} zIndex={300} />
        <Scatter data={qTyp} shape={noShape} isAnimationActive={false} zIndex={400}>
          <ErrorBar dataKey="ey" direction="y" width={3} stroke="#000" strokeWidth={1.5} />
          <ErrorBar dataKey="ex" direction="x" width={3} stroke="#000" strokeWidth={1.5} />
        </Scatter>
      </Panel>

      <Panel left={864} yWidth={30} labels={false} legendName="Star-forming" legendLeft={225.7} legendDotR={1.4}>
        <Scatter data={sfPoints} shape={dot(1.4)} isAnimationActive={false} zIndex={100} />
        <Area data={sfBand} dataKey="band" type="linear" stroke="none" fill={BAND} fillOpacity={1} isAnimationActive={false} zIndex={200} />
        <Line data={sfMed} dataKey="y" type="linear" stroke={RED} strokeWidth={4} dot={medianDot} activeDot={false} isAnimationActive={false} zIndex={300} />
        <Scatter data={sfTyp} shape={noShape} isAnimationActive={false} zIndex={400}>
          <ErrorBar dataKey="ey" direction="y" width={3} stroke="#000" strokeWidth={1.5} />
          <ErrorBar dataKey="ex" direction="x" width={3} stroke="#000" strokeWidth={1.5} />
        </Scatter>
      </Panel>
    </div>
  );
}
